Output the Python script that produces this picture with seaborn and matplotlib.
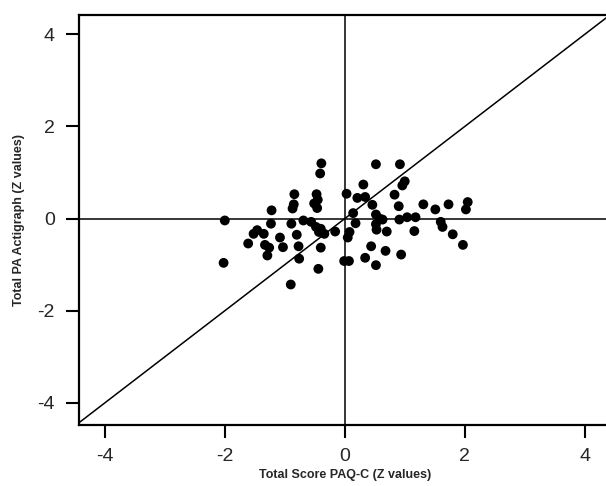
import numpy as np
import pandas as pd
import matplotlib.pyplot as plt
import seaborn as sns

# z-scores
paq_c = [-0.39, -0.41, -0.84, -0.47, 0.03, -0.85, -0.87, -0.51, -0.45, -0.46,
         -1.22, -2.00, -1.23, -0.89, -0.69, -0.56, -0.48, -0.40, -0.34, -0.43,
         -0.16, -1.46, -1.52, -1.35, -1.08, -0.80, -1.61, -1.33, -1.26, -1.03,
         -0.77, -0.40, -1.29, -0.76, -2.02, -0.44, -0.90,
         0.52, 0.92, 0.31, 1.00, 0.96, 0.21, 0.34, 0.83, 0.46, 0.90, 1.31,
         1.51, 1.73, 2.05, 2.02, 0.14, 0.18, 0.52, 0.58, 0.63, 0.91, 1.04,
         1.18, 0.52, 0.53, 0.70, 1.16, 1.60, 1.63, 1.80, 1.97, 0.08, 0.05,
         0.44, 0.68, 0.34, 0.94, 0.52, -0.01, 0.07]
actigraph = [1.20, 0.98, 0.53, 0.53, 0.54, 0.31, 0.22, 0.33, 0.41, 0.23,
             0.18, -0.04, -0.11, -0.11, -0.04, -0.07, -0.18, -0.22, -0.33, -0.29,
             -0.28, -0.25, -0.33, -0.33, -0.41, -0.35, -0.54, -0.57, -0.63, -0.62,
             -0.60, -0.63, -0.80, -0.87, -0.96, -1.09, -1.43,
             1.18, 1.18, 0.74, 0.81, 0.72, 0.45, 0.47, 0.52, 0.30, 0.27, 0.31,
             0.20, 0.31, 0.36, 0.20, 0.12, -0.10, 0.09, 0.00, -0.02, -0.02, 0.03,
             0.03, -0.12, -0.24, -0.28, -0.27, -0.07, -0.18, -0.34, -0.57, -0.29, -0.41,
             -0.60, -0.70, -0.85, -0.78, -1.01, -0.92, -0.92]

df = pd.DataFrame({'paq': paq_c, 'acti': actigraph})

sns.set_style('ticks')
plt.rcParams['font.family'] = ['Liberation Sans', 'DejaVu Sans']
plt.rcParams['axes.unicode_minus'] = False

fig = plt.figure(figsize=(6.06, 4.86), dpi=100)
ax = fig.add_axes([0.1304, 0.1255, 0.877, 0.8436])

ax.axhline(0, color='black', lw=1.1, zorder=1)
ax.axvline(0, color='black', lw=1.1, zorder=1)
ax.plot([-5, 5], [-5, 5], color='black', lw=1.1, zorder=1)

sns.scatterplot(x='paq', y='acti', data=df, ax=ax, color='black', s=50,
                edgecolor='none', zorder=3)

ax.set_xlim(-4.43, 4.43)
ax.set_ylim(-4.48, 4.42)
ax.set_xticks([-4, -2, 0, 2, 4])
ax.set_yticks([-4, -2, 0, 2, 4])
ax.tick_params(length=9.5, width=1.5, labelsize=14, color='black')
ax.tick_params(axis='x', pad=7)
ax.tick_params(axis='y', pad=8)
for s in ['left', 'bottom', 'top']:
    ax.spines[s].set_linewidth(1.6)
    ax.spines[s].set_color('black')
ax.spines['right'].set_visible(False)

ax.set_xlabel('Total Score PAQ-C (Z values)', fontsize=9, fontweight='bold', labelpad=3)
ax.set_ylabel('Total PA Actigraph (Z values)', fontsize=9, fontweight='bold', labelpad=9)

if __name__ == "__main__":
    plt.savefig('out.png', dpi=100)
